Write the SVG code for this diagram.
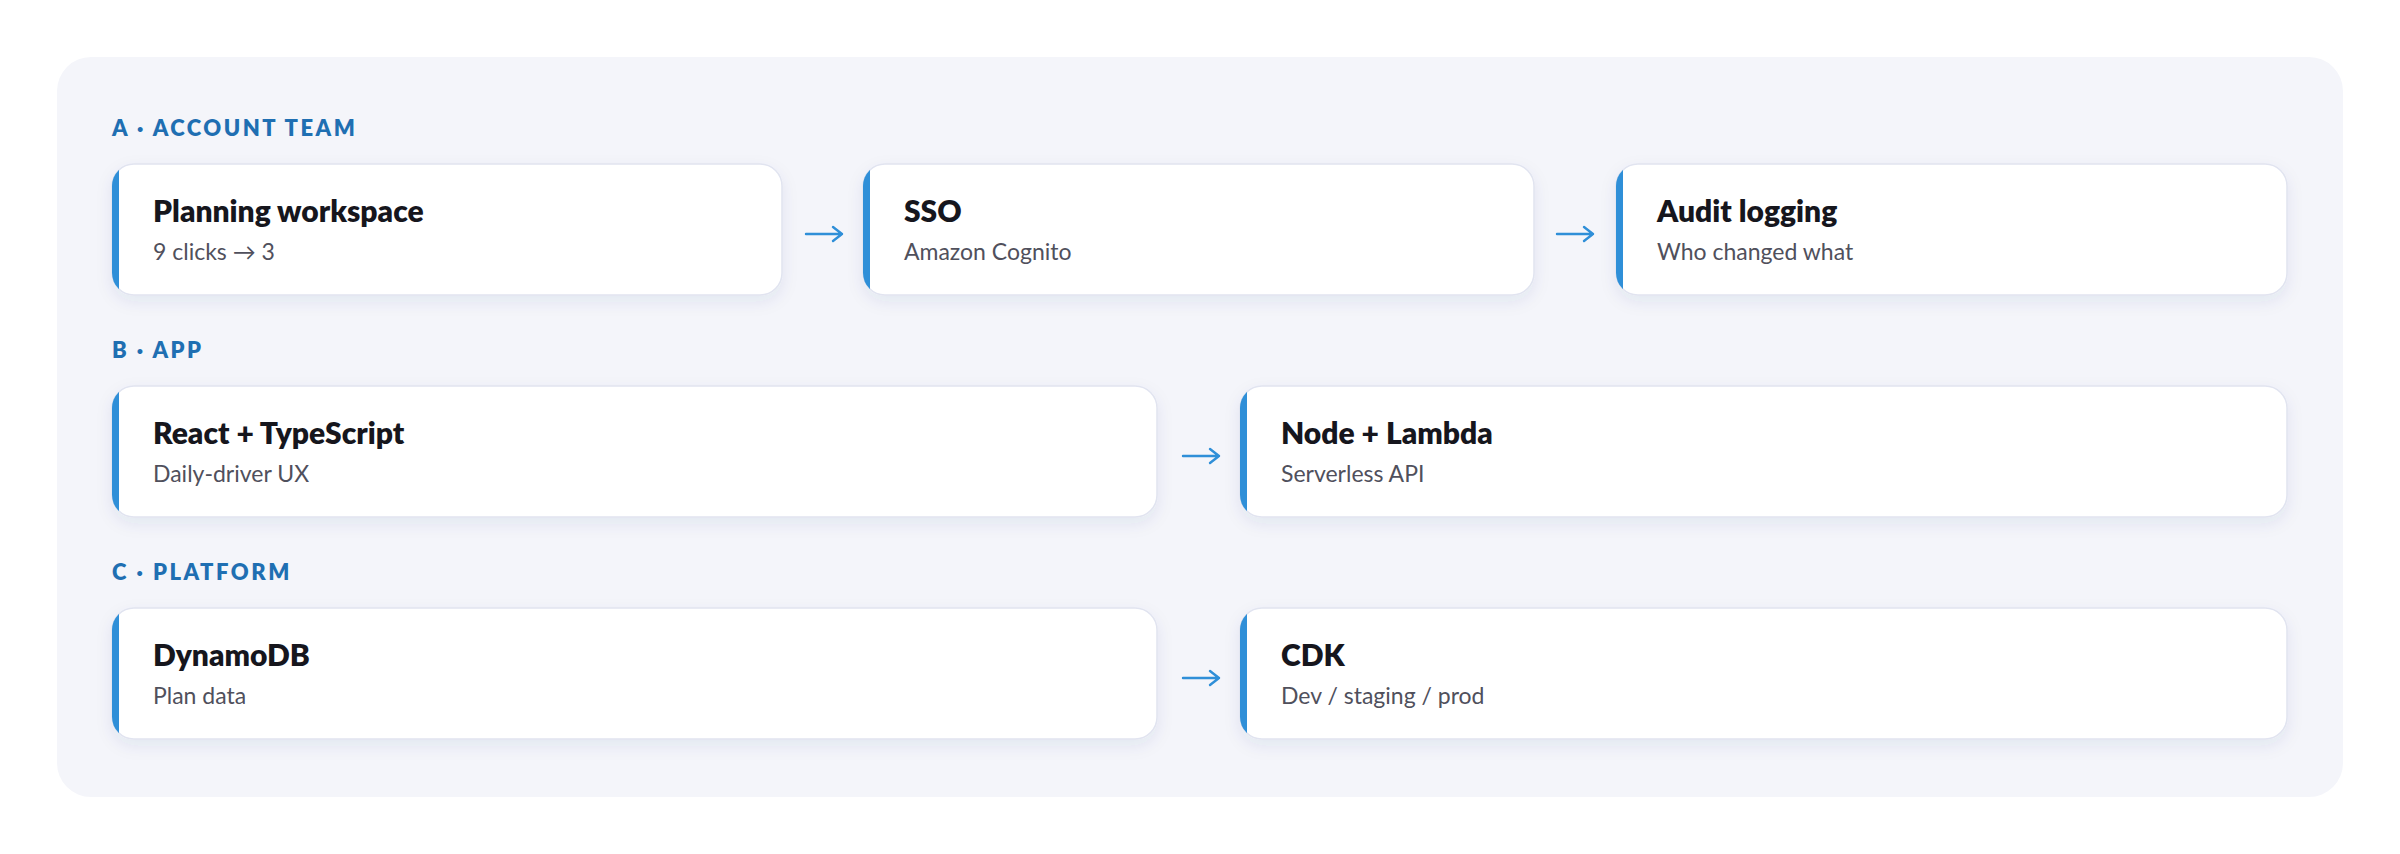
<svg xmlns="http://www.w3.org/2000/svg" width="2400" height="854" viewBox="0 0 2400 854">
<defs>
<filter id="sh" x="-10%" y="-20%" width="120%" height="150%"><feDropShadow dx="0" dy="6" stdDeviation="8" flood-color="#2a3a80" flood-opacity="0.08"/></filter>
<clipPath id="c1"><rect x="112" y="164" width="670" height="131" rx="22"/></clipPath>
<clipPath id="c2"><rect x="863" y="164" width="671" height="131" rx="22"/></clipPath>
<clipPath id="c3"><rect x="1616" y="164" width="671" height="131" rx="22"/></clipPath>
<clipPath id="c4"><rect x="112" y="386" width="1045" height="131" rx="22"/></clipPath>
<clipPath id="c5"><rect x="1240" y="386" width="1047" height="131" rx="22"/></clipPath>
<clipPath id="c6"><rect x="112" y="608" width="1045" height="131" rx="22"/></clipPath>
<clipPath id="c7"><rect x="1240" y="608" width="1047" height="131" rx="22"/></clipPath>
</defs>
<style>
.card{fill:#fff;stroke:#e1e4f0;stroke-width:1.5;filter:url(#sh)}
.bar{fill:#2f8fd8}
.t{font-family:Lato,"Noto Sans",sans-serif;font-weight:800;font-size:30px;fill:#16161d}
.s{font-family:Lato,"Noto Sans",sans-serif;font-size:23px;fill:#50505c}
.lab{font-family:Lato,"Noto Sans",sans-serif;font-weight:800;font-size:22px;fill:#1f6fb2;letter-spacing:2.5px}
.ar{fill:none;stroke:#2f8fd8;stroke-width:2.4;stroke-linecap:round;stroke-linejoin:round}
</style>
<rect width="2400" height="854" fill="#fff"/>
<rect x="57" y="57" width="2286" height="740" rx="34" fill="#f4f5fa"/>
<text class="lab" x="112" y="136">A · ACCOUNT TEAM</text>
<text class="lab" x="112" y="358">B · APP</text>
<text class="lab" x="112" y="580">C · PLATFORM</text>
<g id="n1"><rect class="card" x="112" y="164" width="670" height="131" rx="22"/><rect class="bar" clip-path="url(#c1)" x="112" y="164" width="7" height="131"/><text class="t" x="153" y="222">Planning workspace</text><text class="s" x="153" y="260">9 clicks → 3</text></g>
<g id="n2"><rect class="card" x="863" y="164" width="671" height="131" rx="22"/><rect class="bar" clip-path="url(#c2)" x="863" y="164" width="7" height="131"/><text class="t" x="904" y="222">SSO</text><text class="s" x="904" y="260">Amazon Cognito</text></g>
<g id="n3"><rect class="card" x="1616" y="164" width="671" height="131" rx="22"/><rect class="bar" clip-path="url(#c3)" x="1616" y="164" width="7" height="131"/><text class="t" x="1657" y="222">Audit logging</text><text class="s" x="1657" y="260">Who changed what</text></g>
<g id="n4"><rect class="card" x="112" y="386" width="1045" height="131" rx="22"/><rect class="bar" clip-path="url(#c4)" x="112" y="386" width="7" height="131"/><text class="t" x="153" y="444">React + TypeScript</text><text class="s" x="153" y="482">Daily-driver UX</text></g>
<g id="n5"><rect class="card" x="1240" y="386" width="1047" height="131" rx="22"/><rect class="bar" clip-path="url(#c5)" x="1240" y="386" width="7" height="131"/><text class="t" x="1281" y="444">Node + Lambda</text><text class="s" x="1281" y="482">Serverless API</text></g>
<g id="n6"><rect class="card" x="112" y="608" width="1045" height="131" rx="22"/><rect class="bar" clip-path="url(#c6)" x="112" y="608" width="7" height="131"/><text class="t" x="153" y="666">DynamoDB</text><text class="s" x="153" y="704">Plan data</text></g>
<g id="n7"><rect class="card" x="1240" y="608" width="1047" height="131" rx="22"/><rect class="bar" clip-path="url(#c7)" x="1240" y="608" width="7" height="131"/><text class="t" x="1281" y="666">CDK</text><text class="s" x="1281" y="704">Dev / staging / prod</text></g>
<g id="connectors">
<path class="ar" d="M806 234H842M833 227L842 234L833 241"/>
<path class="ar" d="M1557 234H1593M1584 227L1593 234L1584 241"/>
<path class="ar" d="M1183 456H1219M1210 449L1219 456L1210 463"/>
<path class="ar" d="M1183 678H1219M1210 671L1219 678L1210 685"/>
</g>
</svg>
